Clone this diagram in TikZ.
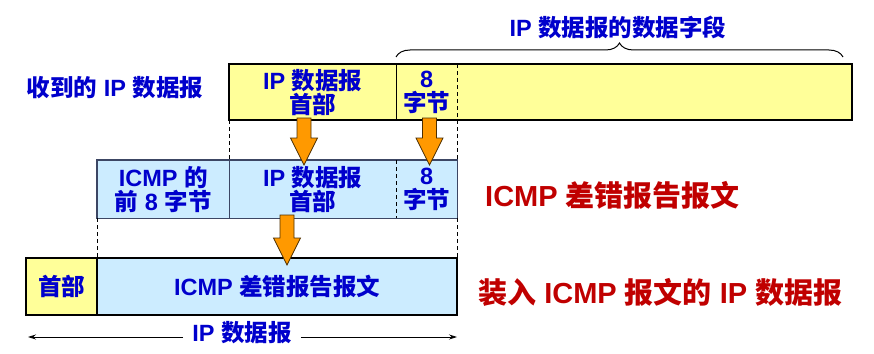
\documentclass[tikz,border=0pt]{standalone}
\usepackage{fontspec}
\setmainfont{Liberation Sans}
\newfontfamily\zhfont{Noto Sans CJK SC}
\newcommand\zh[1]{{\zhfont\bfseries #1}}
\usetikzlibrary{arrows.meta,decorations.pathreplacing}
\definecolor{tblue}{RGB}{0,0,204}
\definecolor{tred}{RGB}{192,0,0}
\definecolor{yfill}{RGB}{255,255,153}
\definecolor{bfill}{RGB}{204,236,255}
\definecolor{afill}{RGB}{255,153,0}
\definecolor{mborder}{RGB}{60,70,100}
\tikzset{
  cell/.style={inner sep=0pt, anchor=north west, align=center, text=tblue,
    font=\bfseries\fontsize{23.5}{24}\selectfont},
  ycell/.style={cell, fill=yfill},
  bcell/.style={cell, fill=bfill},
  lbl/.style={inner sep=0pt, text=tblue, font=\bfseries\fontsize{23.5}{24}\selectfont},
  rlbl/.style={inner sep=0pt, anchor=west, text=tred, font=\bfseries\fontsize{29}{30}\selectfont},
  guide/.style={dash pattern=on 4pt off 3pt, line width=0.9pt},
  thickbox/.style={line width=2pt},
  blockarrow/.style={fill=afill, draw=black!70!afill, line width=0.7pt, line join=miter},
}
\newcommand\barrow[4]{%
  \draw[blockarrow] ({#1-7},#2) -- ({#1+7},#2) -- ({#1+7},#3) -- ({#1+13.5},#3)
    -- (#1,#4) -- ({#1-13.5},#3) -- ({#1-7},#3) -- cycle;}
\begin{document}
\begin{tikzpicture}[x=1pt,y=-1pt]
\useasboundingbox (0,0) rectangle (874,353);
% top row
\node[ycell, minimum width=167pt, minimum height=56pt] (t1) at (229,64) {IP \zh{数据报}\\\zh{首部}};
\node[ycell, minimum width=61pt, minimum height=56pt] (t2) at (396,64) {8\\\zh{字节}};
\node[ycell, minimum width=395pt, minimum height=56pt] (t3) at (457,64) {};
\draw[thickbox] (t1.north west) rectangle (t3.south east);
\draw[line width=1pt] (t1.north east) -- (t1.south east);
% middle row
\node[bcell, minimum width=132pt, minimum height=58pt] (m1) at (97,160) {ICMP \zh{的}\\\zh{前} 8 \zh{字节}};
\node[bcell, minimum width=167pt, minimum height=58pt] (m2) at (229,160) {IP \zh{数据报}\\\zh{首部}};
\node[bcell, minimum width=61pt, minimum height=58pt] (m3) at (396,160) {8\\\zh{字节}};
\draw[draw=mborder, line width=1.2pt] (m1.north west) rectangle (m3.south east);
\draw[draw=mborder, line width=1pt] (m1.north east) -- (m1.south east);
\draw[guide] (m2.north east) -- (m2.south east);
% bottom row
\node[ycell, minimum width=71pt, minimum height=57pt] (b1) at (26,258) {\zh{首部}};
\node[bcell, minimum width=360pt, minimum height=57pt] (b2) at (97,258) {ICMP \zh{差错报告报文}};
\draw[thickbox] (b1.north west) rectangle (b2.south east);
\draw[thickbox] (b1.north east) -- (b1.south east);
% dashed guides
\draw[guide] (t2.north east) -- (m3.north east);
\draw[guide] (t1.south west) -- (m2.north west);
\draw[guide] (m1.south west) -- (b2.north west);
\draw[guide] (m3.south east) -- (b2.north east);
% block arrows
\barrow{304}{118}{138}{165}
\barrow{429.5}{118}{138}{165}
\barrow{287}{215}{238}{265}
% brace
\coordinate (bl) at (396,57);
\coordinate (br) at (843,57);
\draw[line width=1pt, decorate, decoration={brace, amplitude=14pt}] (bl) -- (br);
\node[lbl] (bracelbl) at (618,27) {IP \zh{数据报的数据字段}};
% labels
\node[lbl] (recv) at (115,88) {\zh{收到的} IP \zh{数据报}};
\node[rlbl] (icmp) at (485,195) {ICMP \zh{差错报告报文}};
\node[rlbl] (pack) at (478,292) {\zh{装入} ICMP \zh{报文的} IP \zh{数据报}};
% dimension
\coordinate (dl) at (28,337);
\coordinate (dr) at (457,337);
\node[lbl, inner xsep=9pt] (dlab) at (242,333) {IP \zh{数据报}};
\draw[line width=0.8pt, -{Stealth[length=8pt,width=5pt]}] (dlab.west |- dl) -- (dl);
\draw[line width=0.8pt, -{Stealth[length=8pt,width=5pt]}] (dlab.east |- dr) -- (dr);
\end{tikzpicture}
\end{document}
